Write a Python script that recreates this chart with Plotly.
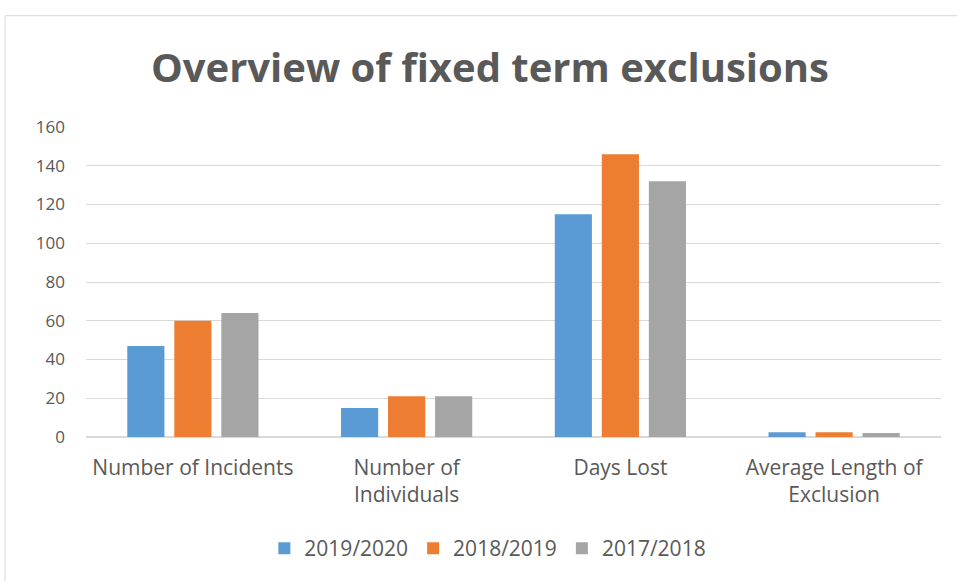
import plotly.graph_objects as go

categories = ["Number of Incidents", "Number of<br>Individuals", "Days Lost", "Average Length of<br>Exclusion"]
series_names = ["2019/2020", "2018/2019", "2017/2018"]
vals_2019_2020 = [47, 15, 115, 2.4]
vals_2018_2019 = [60, 21, 146, 2.4]
vals_2017_2018 = [64, 21, 132, 2.1]
colors = ["#5B9BD5", "#ED7D31", "#A5A5A5"]
y_ticks = [0, 20, 40, 60, 80, 100, 120, 140, 160]

fig = go.Figure()
for name, vals, c in zip(series_names, [vals_2019_2020, vals_2018_2019, vals_2017_2018], colors):
    fig.add_trace(go.Bar(x=categories, y=vals, name=name, marker=dict(color=c, line=dict(width=0))))

font_fam = "Open Sans, sans-serif"
fig.update_layout(
    width=957, height=581,
    margin=dict(l=86, r=16, t=127, b=142),
    paper_bgcolor="white", plot_bgcolor="white",
    barmode="group", bargap=0.34, bargroupgap=0.21,
    title=dict(text="<b>Overview of fixed term exclusions</b>", x=0.512, xanchor="center",
               y=0.883, yanchor="middle",
               font=dict(family="Open Sans, sans-serif", size=40, color="#595959")),
    font=dict(family=font_fam, color="#595959", size=21),
    showlegend=True,
    legend=dict(orientation="h", x=0.47, xanchor="center", y=-0.36, yanchor="middle",
                font=dict(size=21, color="#595959"), itemwidth=30, traceorder="normal"),
    xaxis=dict(showgrid=False, showline=False, ticks="", tickfont=dict(size=21, color="#595959"),
               ticklabelstandoff=16),
    yaxis=dict(range=[0, 160], tickvals=y_ticks, showgrid=True, gridcolor="#D9D9D9", gridwidth=1,
               zeroline=True, zerolinecolor="#D9D9D9", zerolinewidth=1.5,
               showline=False, ticks="", tickfont=dict(size=17, color="#595959"), ticklabelstandoff=20),
)
fig.add_shape(type="rect", xref="paper", yref="paper", x0=-0.0947, x1=1.1, y0=-1.0, y1=1.359,
              line=dict(color="#D9D9D9", width=1), fillcolor="rgba(0,0,0,0)", layer="below")
fig.write_html("out.html", config={"displayModeBar": False},
               post_script="document.body.style.margin='0';document.body.style.overflow='hidden';")
